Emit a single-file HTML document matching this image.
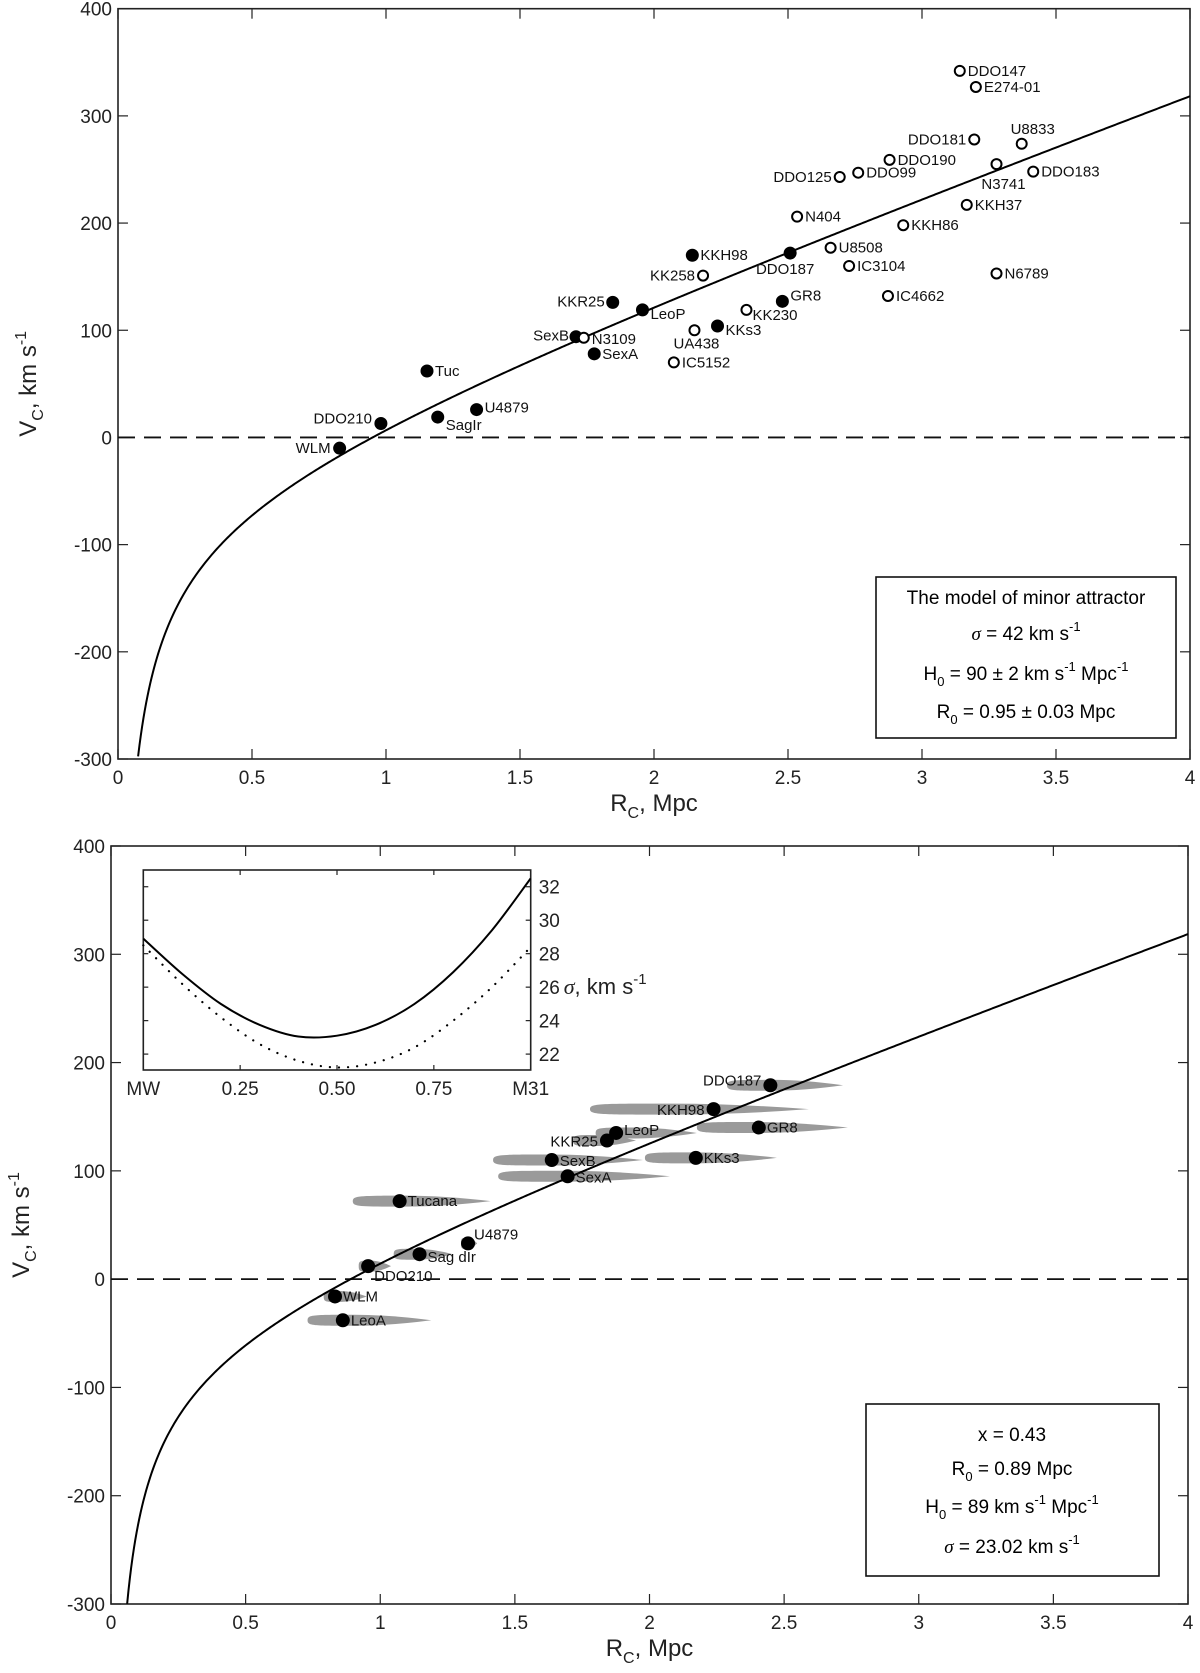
<!DOCTYPE html>
<html><head><meta charset="utf-8">
<style>
html,body{margin:0;padding:0;background:#fff;}
svg{display:block;font-family:"Liberation Sans",sans-serif;}
</style></head>
<body>
<svg id="fig" width="1200" height="1673" viewBox="0 0 1200 1673" xmlns="http://www.w3.org/2000/svg">
<g id="top"></g>
<g id="bot"></g>
</svg>
<script>
// ---------- Top panel data ----------
const topNames = ["WLM","DDO210","SagIr","U4879","Tuc","SexA","SexB","KKR25","LeoP","KKH98","DDO187","GR8","KKs3",
 "N3109","UA438","IC5152","KK258","KK230","N404","U8508","IC3104","IC4662","DDO125","DDO99","DDO190","DDO181","DDO147","E274-01","U8833","N3741","DDO183","KKH37","KKH86","N6789"];
const topR = [0.827,0.981,1.193,1.338,1.153,1.777,1.709,1.846,1.957,2.143,2.508,2.479,2.237,
 1.738,2.151,2.074,2.183,2.345,2.534,2.659,2.728,2.873,2.693,2.762,2.879,3.195,3.141,3.201,3.372,3.278,3.415,3.167,2.930,3.278];
const topV = [-10,13,19,26,62,78,94,126,119,170,172,127,104,
 93,100,70,151,119,206,177,160,132,243,247,259,278,342,327,274,255,248,217,198,153];
const topFilled = [1,1,1,1,1,1,1,1,1,1,1,1,1, 0,0,0,0,0,0,0,0,0,0,0,0,0,0,0,0,0,0,0,0,0];
// label placement (layout, not data)
const topLab = [["end",-9,5],["end",-9,0],["start",8,13],["start",8,3],["start",8,5],["start",8,5],["end",-7,4],["end",-8,4],["start",8,9],["start",8,5],["middle",-5,21],["start",8,-1],["start",8,9],
 ["start",8,6],["middle",2,18],["start",8,5],["end",-8,5],["start",6,10],["start",8,5],["start",8,5],["start",8,5],["start",8,5],["end",-8,5],["start",8,5],["start",8,5],["end",-8,5],["start",8,5],["start",8,5],["middle",11,-10],["middle",7,25],["start",8,5],["start",8,5],["start",8,5],["start",8,5]];
const topH0 = 90, topR0 = 0.95;

// ---------- Bottom panel data ----------
const botNames = ["WLM","LeoA","DDO210","Sag dIr","U4879","Tucana","SexA","SexB","KKR25","LeoP","KKs3","GR8","KKH98","DDO187"];
const botR = [0.832,0.861,0.955,1.146,1.326,1.072,1.696,1.637,1.842,1.876,2.172,2.406,2.238,2.449];
const botV = [-16,-38,12,23,33,72,95,110,128,135,112,140,157,179];
const botErrLo = [0.79,0.73,0.92,1.05,1.30,0.898,1.438,1.419,1.716,1.80,1.983,2.176,1.779,2.288];
const botErrHi = [0.95,1.19,1.04,1.27,1.36,1.41,2.076,1.976,1.95,2.176,2.473,2.737,2.592,2.719];
const botLab = [["start",8,5],["start",8,5],["start",6,15],["start",8,8],["start",6,-4],["start",8,5],["start",8,6],["start",8,6],["end",-9,6],["start",8,2],["start",8,5],["start",8,5],["end",-9,6],["end",-9,0]];
const botH0 = 89, botR0 = 0.89;

// ---------- Inset data ----------
const insetX = [0,0.1,0.2,0.3,0.4,0.5,0.6,0.7,0.8,0.9,1.0];
const insetSolid = [28.9,26.8,25.0,23.75,23.05,23.1,23.75,25.0,26.9,29.4,32.5];
const insetDotted = [28.5,26.2,24.2,22.6,21.6,21.2,21.5,22.4,24.0,26.0,28.4];
const insetYTicks = [22,24,26,28,30,32];
const insetXTicks = [0,0.25,0.5,0.75,1];
const insetXLabels = ["MW","0.25","0.50","0.75","M31"];

const xTicks = [0,0.5,1,1.5,2,2.5,3,3.5,4];
const xTickLabels = ["0","0.5","1","1.5","2","2.5","3","3.5","4"];
const yTicks = [-300,-200,-100,0,100,200,300,400];

const NS = "http://www.w3.org/2000/svg";
function mk(parent, tag, attrs, text){
  const e = document.createElementNS(NS, tag);
  for (const k in attrs) e.setAttribute(k, attrs[k]);
  if (text !== undefined) e.textContent = text;
  parent.appendChild(e);
  return e;
}

function axes(g, P){
  const sx = r => P.x0 + (r - 0) / 4 * (P.x4 - P.x0);
  const sy = v => P.yTop + (400 - v) / 700 * (P.yBot - P.yTop);
  const fr = mk(g,"rect",{x:P.x0,y:P.yTop,width:P.x4-P.x0,height:P.yBot-P.yTop,fill:"none",stroke:"#222","stroke-width":1.6});
  
  
  xTicks.forEach((t,i)=>{
    const x = sx(t);
    const a = mk(g,"line",{x1:x,x2:x,y1:P.yBot,y2:P.yBot-10,stroke:"#222","stroke-width":1.2});
    
    
    const b = mk(g,"line",{x1:x,x2:x,y1:P.yTop,y2:P.yTop+10,stroke:"#222","stroke-width":1.2});
    
    
    const l = mk(g,"text",{x:x,y:P.yBot+25,"text-anchor":"middle","font-size":19,fill:"#222"},xTickLabels[i]);
    
    
  });
  yTicks.forEach(t=>{
    const y = sy(t);
    const a = mk(g,"line",{x1:P.x0,x2:P.x0+10,y1:y,y2:y,stroke:"#222","stroke-width":1.2});
    
    
    const b = mk(g,"line",{x1:P.x4,x2:P.x4-10,y1:y,y2:y,stroke:"#222","stroke-width":1.2});
    
    
    const l = mk(g,"text",{x:P.x0-6,y:y+7,"text-anchor":"end","font-size":19,fill:"#222"},String(t));
    
    
  });
  const z = mk(g,"line",{x1:P.x0,x2:P.x4,y1:sy(0),y2:sy(0),stroke:"#111","stroke-width":1.8,"stroke-dasharray":"17,9"});
  
  
  const xl = mk(g,"text",{x:(P.x0+P.x4)/2,y:P.yBot+52,"text-anchor":"middle","font-size":24,fill:"#222"});
  
  
  mk(xl,"tspan",{},"R");
  mk(xl,"tspan",{"font-size":16,dy:7},"C");
  mk(xl,"tspan",{dy:-7},", Mpc");
  const cy = (P.yTop+P.yBot)/2;
  const yl = mk(g,"text",{x:0,y:0,"text-anchor":"middle","font-size":24,fill:"#222",transform:`translate(${P.x0-82},${cy}) rotate(-90)`});
  
  
  mk(yl,"tspan",{},"V");
  mk(yl,"tspan",{"font-size":16,dy:7},"C");
  mk(yl,"tspan",{dy:-7},", km s");
  mk(yl,"tspan",{"font-size":16,dy:-10},"-1");
  return {sx,sy};
}

function model(g, S, H0, R0, P){
  let d = "";
  for (let r = 0.05; r <= 4.0001; r += 0.005){
    const v = H0*r*(1-Math.pow(R0/r,1.5));
    if (v < -300) continue;
    d += (d ? "L" : "M") + S.sx(r).toFixed(2) + "," + S.sy(v).toFixed(2);
  }
  const p = mk(g,"path",{d:d,fill:"none",stroke:"#000","stroke-width":2});
  
  
}

// ---------- TOP ----------
const gT = document.getElementById("top");
const PT = {x0:118,x4:1190,yTop:8.7,yBot:759};
const ST = axes(gT, PT);
model(gT, ST, topH0, topR0, PT);
topNames.forEach((n,i)=>{
  const x = ST.sx(topR[i]), y = ST.sy(topV[i]);
  const c = mk(gT,"circle",{cx:x,cy:y,r:topFilled[i]?6:5,fill:topFilled[i]?"#000":"#fff",stroke:"#000","stroke-width":topFilled[i]?1:2});
  
  
  const L = topLab[i];
  const t = mk(gT,"text",{x:x+L[1],y:y+L[2],"text-anchor":L[0],"font-size":15,fill:"#111"},n);
  
  
});
(function(){
  const g = mk(gT,"g",{});
  
  
  mk(g,"rect",{x:876,y:577,width:300,height:161,fill:"#fff",stroke:"#111","stroke-width":1.6});
  mk(g,"text",{x:1026,y:604,"text-anchor":"middle","font-size":19},"The model of minor attractor");
  const t1 = mk(g,"text",{x:1026,y:640,"text-anchor":"middle","font-size":19});
  mk(t1,"tspan",{"font-family":"Liberation Serif,serif","font-style":"italic"},"σ");
  mk(t1,"tspan",{}," = 42 km s");
  mk(t1,"tspan",{"font-size":13,dy:-9},"-1");
  const t2 = mk(g,"text",{x:1026,y:680,"text-anchor":"middle","font-size":19});
  mk(t2,"tspan",{},"H");
  mk(t2,"tspan",{"font-size":13,dy:6},"0");
  mk(t2,"tspan",{dy:-6}," =  90 ± 2 km s");
  mk(t2,"tspan",{"font-size":13,dy:-9},"-1");
  mk(t2,"tspan",{dy:9}," Mpc");
  mk(t2,"tspan",{"font-size":13,dy:-9},"-1");
  const t3 = mk(g,"text",{x:1026,y:718,"text-anchor":"middle","font-size":19});
  mk(t3,"tspan",{},"R");
  mk(t3,"tspan",{"font-size":13,dy:6},"0");
  mk(t3,"tspan",{dy:-6}," = 0.95 ± 0.03 Mpc");
})();

// ---------- BOTTOM ----------
const gB = document.getElementById("bot");
const PB = {x0:111,x4:1188,yTop:846,yBot:1604};
const SB = axes(gB, PB);
botNames.forEach((n,i)=>{
  const xL = SB.sx(botErrLo[i]), xR = SB.sx(botErrHi[i]), cy = SB.sy(botV[i]);
  const h = 5.5, xm = xL + 0.38*(xR-xL), xq = xm + 0.45*(xR-xm);
  const d = `M${xL},${cy} C${xL},${cy-h} ${xL+0.1*(xm-xL)},${cy-h} ${xm},${cy-h} Q${xq},${cy-h} ${xR},${cy} Q${xq},${cy+h} ${xm},${cy+h} C${xL+0.1*(xm-xL)},${cy+h} ${xL},${cy+h} ${xL},${cy} Z`;
  const p = mk(gB,"path",{d:d,fill:"#9a9a9a"});
  
  
});
model(gB, SB, botH0, botR0, PB);
botNames.forEach((n,i)=>{
  const x = SB.sx(botR[i]), y = SB.sy(botV[i]);
  const c = mk(gB,"circle",{cx:x,cy:y,r:7,fill:"#000"});
  
  
  const L = botLab[i];
  const t = mk(gB,"text",{x:x+L[1],y:y+L[2],"text-anchor":L[0],"font-size":15,fill:"#111"},n);
  
  
});
(function(){
  const g = mk(gB,"g",{});
  
  
  mk(g,"rect",{x:866,y:1404,width:293,height:172,fill:"#fff",stroke:"#111","stroke-width":1.6});
  mk(g,"text",{x:1012,y:1441,"text-anchor":"middle","font-size":19},"x = 0.43");
  const t1 = mk(g,"text",{x:1012,y:1475,"text-anchor":"middle","font-size":19});
  mk(t1,"tspan",{},"R");
  mk(t1,"tspan",{"font-size":13,dy:6},"0");
  mk(t1,"tspan",{dy:-6}," = 0.89 Mpc");
  const t2 = mk(g,"text",{x:1012,y:1513,"text-anchor":"middle","font-size":19});
  mk(t2,"tspan",{},"H");
  mk(t2,"tspan",{"font-size":13,dy:6},"0");
  mk(t2,"tspan",{dy:-6}," =  89 km s");
  mk(t2,"tspan",{"font-size":13,dy:-9},"-1");
  mk(t2,"tspan",{dy:9}," Mpc");
  mk(t2,"tspan",{"font-size":13,dy:-9},"-1");
  const t3 = mk(g,"text",{x:1012,y:1553,"text-anchor":"middle","font-size":19});
  mk(t3,"tspan",{"font-family":"Liberation Serif,serif","font-style":"italic"},"σ");
  mk(t3,"tspan",{}," = 23.02 km s");
  mk(t3,"tspan",{"font-size":13,dy:-9},"-1");
})();

// ---------- INSET ----------
(function(){
  const g = mk(gB,"g",{});
  
  
  const I = {x0:143.3,x1:530.7,y0:870,y1:1070,vmin:21.05,vmax:33.0};
  const ix = f => I.x0 + f*(I.x1-I.x0);
  const iy = v => I.y1 - (v-I.vmin)/(I.vmax-I.vmin)*(I.y1-I.y0);
  mk(g,"rect",{x:I.x0,y:I.y0,width:I.x1-I.x0,height:I.y1-I.y0,fill:"#fff",stroke:"#222","stroke-width":1.6});
  insetXTicks.forEach((t,i)=>{
    const x = ix(t);
    mk(g,"line",{x1:x,x2:x,y1:I.y1,y2:I.y1-5,stroke:"#222","stroke-width":1.2});
    mk(g,"line",{x1:x,x2:x,y1:I.y0,y2:I.y0+5,stroke:"#222","stroke-width":1.2});
    const l = mk(g,"text",{x:x,y:I.y1+25,"text-anchor":"middle","font-size":19,fill:"#222"},insetXLabels[i]);
    
    
  });
  insetYTicks.forEach(t=>{
    const y = iy(t);
    mk(g,"line",{x1:I.x1,x2:I.x1-5,y1:y,y2:y,stroke:"#222","stroke-width":1.2});
    mk(g,"line",{x1:I.x0,x2:I.x0+5,y1:y,y2:y,stroke:"#222","stroke-width":1.2});
    const l = mk(g,"text",{x:I.x1+8,y:y+7,"font-size":19,fill:"#222"},String(t));
    
    
  });
  const yt = mk(g,"text",{x:I.x1+33,y:iy(26)+7,"font-size":22,fill:"#222"});
  
  
  mk(yt,"tspan",{"font-family":"Liberation Serif,serif","font-style":"italic"},"σ");
  mk(yt,"tspan",{},", km s");
  mk(yt,"tspan",{"font-size":15,dy:-10},"-1");
  function smooth(xs, ys){
    const pts = xs.map((x,i)=>[ix(x), iy(ys[i])]);
    let d = `M${pts[0][0]},${pts[0][1]}`;
    for (let i=0;i<pts.length-1;i++){
      const p0 = pts[Math.max(0,i-1)], p1 = pts[i], p2 = pts[i+1], p3 = pts[Math.min(pts.length-1,i+2)];
      const c1 = [p1[0]+(p2[0]-p0[0])/6, p1[1]+(p2[1]-p0[1])/6];
      const c2 = [p2[0]-(p3[0]-p1[0])/6, p2[1]-(p3[1]-p1[1])/6];
      d += ` C${c1[0]},${c1[1]} ${c2[0]},${c2[1]} ${p2[0]},${p2[1]}`;
    }
    return d;
  }
  const s = mk(g,"path",{d:smooth(insetX,insetSolid),fill:"none",stroke:"#000","stroke-width":2});
  
  
  const dt = mk(g,"path",{d:smooth(insetX,insetDotted),fill:"none",stroke:"#000","stroke-width":2.2,"stroke-dasharray":"0.1,9","stroke-linecap":"round"});
  
  
})();
</script>
</body></html>
